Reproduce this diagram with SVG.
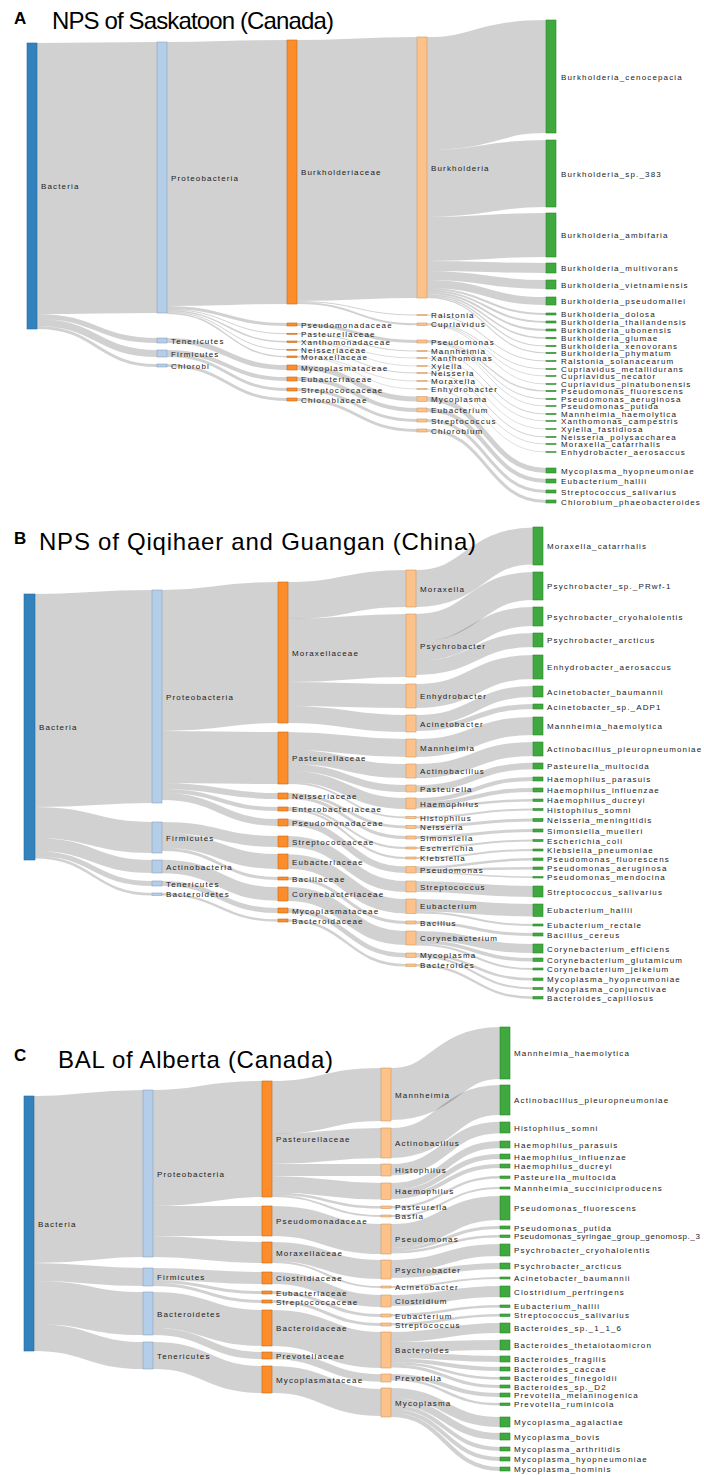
<svg xmlns="http://www.w3.org/2000/svg" width="704" height="1475" viewBox="0 0 704 1475">
<style>
.k{fill:#3182bd;stroke:#2a6a9c;stroke-width:.6}
.p{fill:#b4cde9;stroke:#8aa3c2;stroke-width:.6}
.f{fill:#fd8d2a;stroke:#c9691a;stroke-width:.6}
.g{fill:#fdc28a;stroke:#d39a62;stroke-width:.6}
.s{fill:#3fa83f;stroke:#2b8a2b;stroke-width:.6}
text{font-family:"Liberation Sans",Arial,sans-serif;font-size:8px;letter-spacing:1.15px;fill:#222}
.lk path{fill:none;stroke:#000;stroke-opacity:.18}
text.t{font-size:24px;letter-spacing:0;fill:#000}
text.pl{font-size:17px;font-weight:bold;letter-spacing:0;fill:#000}
</style>
<rect width="704" height="1475" fill="#fff"/>

<!-- ================= PANEL A ================= -->
<text class="pl" x="14" y="24">A</text>
<text class="t" x="52" y="29" textLength="282">NPS of Saskatoon (Canada)</text>
<g class="lk" id="a-links">
<path d="M37 178.5C97 178.5 97 177.5 157 177.5" stroke-width="271"/>
<path d="M37 316.5C97 316.5 97 340.5 157 340.5" stroke-width="5"/>
<path d="M37 322.5C97 322.5 97 353.5 157 353.5" stroke-width="7"/>
<path d="M37 327.5C97 327.5 97 365.5 157 365.5" stroke-width="3"/>
<path d="M167 174C227 174 227 172 287 172" stroke-width="264"/>
<path d="M167 307.5C227 307.5 227 324.5 287 324.5" stroke-width="3"/>
<path d="M167 309.5C227 309.5 227 333.75 287 333.75" stroke-width="1"/>
<path d="M167 310.75C227 310.75 227 341.75 287 341.75" stroke-width="1.5"/>
<path d="M167 312C227 312 227 349.75 287 349.75" stroke-width="1"/>
<path d="M167 313.25C227 313.25 227 356.75 287 356.75" stroke-width="1.5"/>
<path d="M167 340.5C227 340.5 227 367.5 287 367.5" stroke-width="5"/>
<path d="M167 352C227 352 227 379 287 379" stroke-width="4"/>
<path d="M167 355.5C227 355.5 227 389.5 287 389.5" stroke-width="3"/>
<path d="M167 365.5C227 365.5 227 399.5 287 399.5" stroke-width="3"/>
<path d="M297 170.5C357 170.5 357 167.5 417 167.5" stroke-width="261"/>
<path d="M297 301.5C357 301.5 357 315 417 315" stroke-width="1"/>
<path d="M297 303C357 303 357 324.25 417 324.25" stroke-width="2"/>
<path d="M297 324.5C357 324.5 357 341.5 417 341.5" stroke-width="3"/>
<path d="M297 333.75C357 333.75 357 351 417 351" stroke-width="1"/>
<path d="M297 341.4C357 341.4 357 358 417 358" stroke-width=".8"/>
<path d="M297 342.1C357 342.1 357 366 417 366" stroke-width=".7"/>
<path d="M297 349.75C357 349.75 357 373 417 373" stroke-width="1"/>
<path d="M297 356.4C357 356.4 357 381 417 381" stroke-width=".8"/>
<path d="M297 357.1C357 357.1 357 389 417 389" stroke-width=".7"/>
<path d="M297 367.5C357 367.5 357 399 417 399" stroke-width="5"/>
<path d="M297 379C357 379 357 410 417 410" stroke-width="4"/>
<path d="M297 389.5C357 389.5 357 420.5 417 420.5" stroke-width="3"/>
<path d="M297 399.5C357 399.5 357 430.5 417 430.5" stroke-width="3"/>
<path d="M427 93.5C486.5 93.5 486.5 76.5 546 76.5" stroke-width="113"/>
<path d="M427 183.5C486.5 183.5 486.5 173.5 546 173.5" stroke-width="67"/>
<path d="M427 239C486.5 239 486.5 235 546 235" stroke-width="44"/>
<path d="M427 266C486.5 266 486.5 268 546 268" stroke-width="10"/>
<path d="M427 275.5C486.5 275.5 486.5 284.5 546 284.5" stroke-width="9"/>
<path d="M427 284C486.5 284 486.5 301 546 301" stroke-width="8"/>
<path d="M427 289C486.5 289 486.5 314 546 314" stroke-width="2"/>
<path d="M427 291C486.5 291 486.5 322 546 322" stroke-width="2"/>
<path d="M427 293C486.5 293 486.5 330 546 330" stroke-width="2"/>
<path d="M427 294.75C486.5 294.75 486.5 338 546 338" stroke-width="1.5"/>
<path d="M427 296.1C486.5 296.1 486.5 346 546 346" stroke-width="1.2"/>
<path d="M427 297.3C486.5 297.3 486.5 353 546 353" stroke-width="1.2"/>
<path d="M427 315C486.5 315 486.5 361 546 361" stroke-width="1"/>
<path d="M427 323.45C486.5 323.45 486.5 369 546 369" stroke-width=".9"/>
<path d="M427 324.3C486.5 324.3 486.5 376 546 376" stroke-width=".8"/>
<path d="M427 325.1C486.5 325.1 486.5 384 546 384" stroke-width=".8"/>
<path d="M427 340.6C486.5 340.6 486.5 391 546 391" stroke-width="1.2"/>
<path d="M427 341.7C486.5 341.7 486.5 399 546 399" stroke-width="1"/>
<path d="M427 342.6C486.5 342.6 486.5 406 546 406" stroke-width=".8"/>
<path d="M427 351C486.5 351 486.5 414 546 414" stroke-width="1"/>
<path d="M427 358C486.5 358 486.5 421 546 421" stroke-width=".8"/>
<path d="M427 366C486.5 366 486.5 429 546 429" stroke-width=".7"/>
<path d="M427 373C486.5 373 486.5 437 546 437" stroke-width="1"/>
<path d="M427 381C486.5 381 486.5 444 546 444" stroke-width=".8"/>
<path d="M427 389C486.5 389 486.5 452 546 452" stroke-width=".7"/>
<path d="M427 399C486.5 399 486.5 470.5 546 470.5" stroke-width="5"/>
<path d="M427 410C486.5 410 486.5 481 546 481" stroke-width="4"/>
<path d="M427 420.5C486.5 420.5 486.5 491.5 546 491.5" stroke-width="3"/>
<path d="M427 430.5C486.5 430.5 486.5 501.5 546 501.5" stroke-width="3"/>
</g>
<g id="a-bacteria"><rect class="k" x="27" y="43" width="10" height="286"/><text x="41" y="189">Bacteria</text></g>
<g id="a-proteobacteria"><rect class="p" x="157" y="42" width="10" height="271"/><text x="171" y="180.5">Proteobacteria</text></g>
<g id="a-tenericutes"><rect class="p" x="157" y="338" width="10" height="5"/><text x="171" y="343.5">Tenericutes</text></g>
<g id="a-firmicutes"><rect class="p" x="157" y="350" width="10" height="7"/><text x="171" y="356.5">Firmicutes</text></g>
<g id="a-chlorobi"><rect class="p" x="157" y="364" width="10" height="3"/><text x="171" y="368.5">Chlorobi</text></g>
<g id="a-burkholderiaceae"><rect class="f" x="287" y="40" width="10" height="264"/><text x="301" y="175">Burkholderiaceae</text></g>
<g id="a-pseudomonadaceae"><rect class="f" x="287" y="323" width="10" height="3"/><text x="301" y="327.5">Pseudomonadaceae</text></g>
<g id="a-pasteurellaceae"><rect class="f" x="287" y="333.25" width="10" height="1"/><text x="301" y="336.75">Pasteurellaceae</text></g>
<g id="a-xanthomonadaceae"><rect class="f" x="287" y="341" width="10" height="1.5"/><text x="301" y="344.75">Xanthomonadaceae</text></g>
<g id="a-neisseriaceae"><rect class="f" x="287" y="349.25" width="10" height="1"/><text x="301" y="352.75">Neisseriaceae</text></g>
<g id="a-moraxellaceae"><rect class="f" x="287" y="356" width="10" height="1.5"/><text x="301" y="359.75">Moraxellaceae</text></g>
<g id="a-mycoplasmataceae"><rect class="f" x="287" y="365" width="10" height="5"/><text x="301" y="370.5">Mycoplasmataceae</text></g>
<g id="a-eubacteriaceae"><rect class="f" x="287" y="377" width="10" height="4"/><text x="301" y="382">Eubacteriaceae</text></g>
<g id="a-streptococcaceae"><rect class="f" x="287" y="388" width="10" height="3"/><text x="301" y="392.5">Streptococcaceae</text></g>
<g id="a-chlorobiaceae"><rect class="f" x="287" y="398" width="10" height="3"/><text x="301" y="402.5">Chlorobiaceae</text></g>
<g id="a-burkholderia"><rect class="g" x="417" y="37" width="10" height="261"/><text x="431" y="170.5">Burkholderia</text></g>
<g id="a-ralstonia"><rect class="g" x="417" y="314.5" width="10" height="1"/><text x="431" y="318">Ralstonia</text></g>
<g id="a-cupriavidus"><rect class="g" x="417" y="323" width="10" height="2.5"/><text x="431" y="327.25">Cupriavidus</text></g>
<g id="a-pseudomonas"><rect class="g" x="417" y="340" width="10" height="3"/><text x="431" y="344.5">Pseudomonas</text></g>
<g id="a-mannheimia"><rect class="g" x="417" y="350.5" width="10" height="1"/><text x="431" y="354">Mannheimia</text></g>
<g id="a-xanthomonas"><rect class="g" x="417" y="357.6" width="10" height=".8"/><text x="431" y="361">Xanthomonas</text></g>
<g id="a-xylella"><rect class="g" x="417" y="365.6" width="10" height=".8"/><text x="431" y="369">Xylella</text></g>
<g id="a-neisseria"><rect class="g" x="417" y="372.5" width="10" height="1"/><text x="431" y="376">Neisseria</text></g>
<g id="a-moraxella"><rect class="g" x="417" y="380.6" width="10" height=".8"/><text x="431" y="384">Moraxella</text></g>
<g id="a-enhydrobacter"><rect class="g" x="417" y="388.6" width="10" height=".8"/><text x="431" y="392">Enhydrobacter</text></g>
<g id="a-mycoplasma"><rect class="g" x="417" y="396.5" width="10" height="5"/><text x="431" y="402">Mycoplasma</text></g>
<g id="a-eubacterium"><rect class="g" x="417" y="408" width="10" height="4"/><text x="431" y="413">Eubacterium</text></g>
<g id="a-streptococcus"><rect class="g" x="417" y="419" width="10" height="3"/><text x="431" y="423.5">Streptococcus</text></g>
<g id="a-chlorobium"><rect class="g" x="417" y="429" width="10" height="3"/><text x="431" y="433.5">Chlorobium</text></g>
<g id="a-s-cenocepacia"><rect class="s" x="546" y="20" width="10" height="113"/><text x="561" y="79.5">Burkholderia_cenocepacia</text></g>
<g id="a-s-sp383"><rect class="s" x="546" y="140" width="10" height="67"/><text x="561" y="176.5">Burkholderia_sp._383</text></g>
<g id="a-s-ambifaria"><rect class="s" x="546" y="213" width="10" height="44"/><text x="561" y="238">Burkholderia_ambifaria</text></g>
<g id="a-s-multivorans"><rect class="s" x="546" y="263" width="10" height="10"/><text x="561" y="271">Burkholderia_multivorans</text></g>
<g id="a-s-vietnamiensis"><rect class="s" x="546" y="280" width="10" height="9"/><text x="561" y="287.5">Burkholderia_vietnamiensis</text></g>
<g id="a-s-pseudomallei"><rect class="s" x="546" y="297" width="10" height="8"/><text x="561" y="304">Burkholderia_pseudomallei</text></g>
<g id="a-s-dolosa"><rect class="s" x="546" y="313" width="10" height="2"/><text x="561" y="317">Burkholderia_dolosa</text></g>
<g id="a-s-thailandensis"><rect class="s" x="546" y="321" width="10" height="2"/><text x="561" y="325">Burkholderia_thailandensis</text></g>
<g id="a-s-ubonensis"><rect class="s" x="546" y="329" width="10" height="2"/><text x="561" y="333">Burkholderia_ubonensis</text></g>
<g id="a-s-glumae"><rect class="s" x="546" y="337.25" width="10" height="1.5"/><text x="561" y="341">Burkholderia_glumae</text></g>
<g id="a-s-xenovorans"><rect class="s" x="546" y="345.4" width="10" height="1.2"/><text x="561" y="349">Burkholderia_xenovorans</text></g>
<g id="a-s-phymatum"><rect class="s" x="546" y="352.4" width="10" height="1.2"/><text x="561" y="356">Burkholderia_phymatum</text></g>
<g id="a-s-ralstonia"><rect class="s" x="546" y="360.5" width="10" height="1"/><text x="561" y="364">Ralstonia_solanacearum</text></g>
<g id="a-s-metallidurans"><rect class="s" x="546" y="368.55" width="10" height=".9"/><text x="561" y="372">Cupriavidus_metallidurans</text></g>
<g id="a-s-necator"><rect class="s" x="546" y="375.6" width="10" height=".8"/><text x="561" y="379">Cupriavidus_necator</text></g>
<g id="a-s-pinatubonensis"><rect class="s" x="546" y="383.6" width="10" height=".8"/><text x="561" y="387">Cupriavidus_pinatubonensis</text></g>
<g id="a-s-pfluorescens"><rect class="s" x="546" y="390.4" width="10" height="1.2"/><text x="561" y="394">Pseudomonas_fluorescens</text></g>
<g id="a-s-paeruginosa"><rect class="s" x="546" y="398.5" width="10" height="1"/><text x="561" y="402">Pseudomonas_aeruginosa</text></g>
<g id="a-s-pputida"><rect class="s" x="546" y="405.6" width="10" height=".8"/><text x="561" y="409">Pseudomonas_putida</text></g>
<g id="a-s-mhaemolytica"><rect class="s" x="546" y="413.5" width="10" height="1"/><text x="561" y="417">Mannheimia_haemolytica</text></g>
<g id="a-s-xcampestris"><rect class="s" x="546" y="420.6" width="10" height=".8"/><text x="561" y="424">Xanthomonas_campestris</text></g>
<g id="a-s-xfastidiosa"><rect class="s" x="546" y="428.65" width="10" height=".7"/><text x="561" y="432">Xylella_fastidiosa</text></g>
<g id="a-s-npolysaccharea"><rect class="s" x="546" y="436.5" width="10" height="1"/><text x="561" y="440">Neisseria_polysaccharea</text></g>
<g id="a-s-mcatarrhalis"><rect class="s" x="546" y="443.6" width="10" height=".8"/><text x="561" y="447">Moraxella_catarrhalis</text></g>
<g id="a-s-eaerosaccus"><rect class="s" x="546" y="451.65" width="10" height=".7"/><text x="561" y="455">Enhydrobacter_aerosaccus</text></g>
<g id="a-s-mhyopneumoniae"><rect class="s" x="546" y="468" width="10" height="5"/><text x="561" y="473.5">Mycoplasma_hyopneumoniae</text></g>
<g id="a-s-ehallii"><rect class="s" x="546" y="479" width="10" height="4"/><text x="561" y="484">Eubacterium_hallii</text></g>
<g id="a-s-ssalivarius"><rect class="s" x="546" y="490" width="10" height="3"/><text x="561" y="494.5">Streptococcus_salivarius</text></g>
<g id="a-s-cphaeobacteroides"><rect class="s" x="546" y="500" width="10" height="3"/><text x="561" y="504.5">Chlorobium_phaeobacteroides</text></g>

<!-- ================= PANEL B ================= -->
<text class="pl" x="14" y="544">B</text>
<text class="t" x="39" y="550" textLength="437">NPS of Qiqihaer and Guangan (China)</text>
<g class="lk" id="b-links">
<path d="M35 700.5C93.5 700.5 93.5 696.5 152 696.5" stroke-width="213"/>
<path d="M35 822.5C93.5 822.5 93.5 837.5 152 837.5" stroke-width="31"/>
<path d="M35 844.5C93.5 844.5 93.5 866.5 152 866.5" stroke-width="13"/>
<path d="M35 853.5C93.5 853.5 93.5 883.5 152 883.5" stroke-width="5"/>
<path d="M35 857.25C93.5 857.25 93.5 894.25 152 894.25" stroke-width="2.5"/>
<path d="M162 660.5C220 660.5 220 652.5 278 652.5" stroke-width="141"/>
<path d="M162 757C220 757 220 758 278 758" stroke-width="52"/>
<path d="M162 786C220 786 220 796 278 796" stroke-width="6"/>
<path d="M162 791C220 791 220 809 278 809" stroke-width="4"/>
<path d="M162 796.5C220 796.5 220 822.5 278 822.5" stroke-width="7"/>
<path d="M162 827.5C220 827.5 220 841.5 278 841.5" stroke-width="11"/>
<path d="M162 840.5C220 840.5 220 861.5 278 861.5" stroke-width="15"/>
<path d="M162 849.5C220 849.5 220 878.5 278 878.5" stroke-width="3"/>
<path d="M162 866.5C220 866.5 220 894 278 894" stroke-width="13.5"/>
<path d="M162 883.5C220 883.5 220 910.5 278 910.5" stroke-width="5"/>
<path d="M162 894.25C220 894.25 220 920.5 278 920.5" stroke-width="2.5"/>
<path d="M288 600.5C347 600.5 347 588.5 406 588.5" stroke-width="37"/>
<path d="M288 650.5C347 650.5 347 645.5 406 645.5" stroke-width="63"/>
<path d="M288 694C347 694 347 696 406 696" stroke-width="24"/>
<path d="M288 714.5C347 714.5 347 723.5 406 723.5" stroke-width="17"/>
<path d="M288 741C347 741 347 748 406 748" stroke-width="18"/>
<path d="M288 757C347 757 347 771 406 771" stroke-width="14"/>
<path d="M288 767.5C347 767.5 347 788.5 406 788.5" stroke-width="7"/>
<path d="M288 776.5C347 776.5 347 803.5 406 803.5" stroke-width="11"/>
<path d="M288 783C347 783 347 817.5 406 817.5" stroke-width="2"/>
<path d="M288 794.5C347 794.5 347 827 406 827" stroke-width="3"/>
<path d="M288 797.5C347 797.5 347 837.5 406 837.5" stroke-width="3"/>
<path d="M288 808C347 808 347 848 406 848" stroke-width="2"/>
<path d="M288 810C347 810 347 858 406 858" stroke-width="2"/>
<path d="M288 822.5C347 822.5 347 869.75 406 869.75" stroke-width="6.5"/>
<path d="M288 841.5C347 841.5 347 886.5 406 886.5" stroke-width="11"/>
<path d="M288 861.5C347 861.5 347 906.25 406 906.25" stroke-width="14.5"/>
<path d="M288 878.5C347 878.5 347 922.5 406 922.5" stroke-width="3"/>
<path d="M288 894C347 894 347 938 406 938" stroke-width="14"/>
<path d="M288 910.5C347 910.5 347 955.25 406 955.25" stroke-width="4.5"/>
<path d="M288 920.5C347 920.5 347 965.25 406 965.25" stroke-width="2.5"/>
<path d="M416 588.5C474.5 588.5 474.5 546 533 546" stroke-width="37"/>
<path d="M416 628C474.5 628 474.5 586 533 586" stroke-width="28"/>
<path d="M416 651.5C474.5 651.5 474.5 616.5 533 616.5" stroke-width="19"/>
<path d="M416 668C474.5 668 474.5 640 533 640" stroke-width="14"/>
<path d="M416 696C474.5 696 474.5 667 533 667" stroke-width="24"/>
<path d="M416 720.5C474.5 720.5 474.5 691.5 533 691.5" stroke-width="11"/>
<path d="M416 728.5C474.5 728.5 474.5 706.5 533 706.5" stroke-width="5"/>
<path d="M416 748C474.5 748 474.5 726 533 726" stroke-width="18"/>
<path d="M416 771C474.5 771 474.5 749 533 749" stroke-width="14"/>
<path d="M416 788.5C474.5 788.5 474.5 766 533 766" stroke-width="6.5"/>
<path d="M416 800C474.5 800 474.5 779 533 779" stroke-width="4"/>
<path d="M416 804C474.5 804 474.5 790 533 790" stroke-width="4"/>
<path d="M416 807.25C474.5 807.25 474.5 800.25 533 800.25" stroke-width="2.5"/>
<path d="M416 817.5C474.5 817.5 474.5 809.5 533 809.5" stroke-width="2"/>
<path d="M416 827C474.5 827 474.5 820 533 820" stroke-width="3"/>
<path d="M416 837.5C474.5 837.5 474.5 830.5 533 830.5" stroke-width="3"/>
<path d="M416 848C474.5 848 474.5 840.5 533 840.5" stroke-width="2"/>
<path d="M416 858C474.5 858 474.5 850 533 850" stroke-width="2"/>
<path d="M416 867.75C474.5 867.75 474.5 859.25 533 859.25" stroke-width="2.5"/>
<path d="M416 870.25C474.5 870.25 474.5 868.25 533 868.25" stroke-width="2.5"/>
<path d="M416 872.25C474.5 872.25 474.5 877.25 533 877.25" stroke-width="1.5"/>
<path d="M416 886.5C474.5 886.5 474.5 891.5 533 891.5" stroke-width="11"/>
<path d="M416 905.25C474.5 905.25 474.5 910.25 533 910.25" stroke-width="12.5"/>
<path d="M416 912.5C474.5 912.5 474.5 925 533 925" stroke-width="2"/>
<path d="M416 922.5C474.5 922.5 474.5 934.5 533 934.5" stroke-width="3"/>
<path d="M416 935.5C474.5 935.5 474.5 948.5 533 948.5" stroke-width="9"/>
<path d="M416 941.75C474.5 941.75 474.5 959.75 533 959.75" stroke-width="3.5"/>
<path d="M416 944.5C474.5 944.5 474.5 969 533 969" stroke-width="2"/>
<path d="M416 954.25C474.5 954.25 474.5 979.25 533 979.25" stroke-width="2.5"/>
<path d="M416 956.5C474.5 956.5 474.5 988.5 533 988.5" stroke-width="2"/>
<path d="M416 965.25C474.5 965.25 474.5 997.75 533 997.75" stroke-width="2.5"/>
</g>
<g id="b-bacteria"><rect class="k" x="24" y="594" width="11" height="266"/><text x="39" y="730">Bacteria</text></g>
<g id="b-proteobacteria"><rect class="p" x="152" y="590" width="10" height="213"/><text x="166" y="699.5">Proteobacteria</text></g>
<g id="b-firmicutes"><rect class="p" x="152" y="822" width="10" height="31"/><text x="166" y="840.5">Firmicutes</text></g>
<g id="b-actinobacteria"><rect class="p" x="152" y="860" width="10" height="13"/><text x="166" y="869.5">Actinobacteria</text></g>
<g id="b-tenericutes"><rect class="p" x="152" y="881" width="10" height="5"/><text x="166" y="886.5">Tenericutes</text></g>
<g id="b-bacteroidetes"><rect class="p" x="152" y="893" width="10" height="2.5"/><text x="166" y="897.25">Bacteroidetes</text></g>
<g id="b-moraxellaceae"><rect class="f" x="278" y="582" width="10" height="141"/><text x="292" y="655.5">Moraxellaceae</text></g>
<g id="b-pasteurellaceae"><rect class="f" x="278" y="732" width="10" height="52"/><text x="292" y="761">Pasteurellaceae</text></g>
<g id="b-neisseriaceae"><rect class="f" x="278" y="793" width="10" height="6"/><text x="292" y="799">Neisseriaceae</text></g>
<g id="b-enterobacteriaceae"><rect class="f" x="278" y="807" width="10" height="4"/><text x="292" y="812">Enterobacteriaceae</text></g>
<g id="b-pseudomonadaceae"><rect class="f" x="278" y="819" width="10" height="7"/><text x="292" y="825.5">Pseudomonadaceae</text></g>
<g id="b-streptococcaceae"><rect class="f" x="278" y="836" width="10" height="11"/><text x="292" y="844.5">Streptococcaceae</text></g>
<g id="b-eubacteriaceae"><rect class="f" x="278" y="854" width="10" height="15"/><text x="292" y="864.5">Eubacteriaceae</text></g>
<g id="b-bacillaceae"><rect class="f" x="278" y="877" width="10" height="3"/><text x="292" y="881.5">Bacillaceae</text></g>
<g id="b-corynebacteriaceae"><rect class="f" x="278" y="887" width="10" height="14"/><text x="292" y="897">Corynebacteriaceae</text></g>
<g id="b-mycoplasmataceae"><rect class="f" x="278" y="908" width="10" height="5"/><text x="292" y="913.5">Mycoplasmataceae</text></g>
<g id="b-bacteroidaceae"><rect class="f" x="278" y="919" width="10" height="3"/><text x="292" y="923.5">Bacteroidaceae</text></g>
<g id="b-moraxella"><rect class="g" x="406" y="570" width="10" height="37"/><text x="420" y="591.5">Moraxella</text></g>
<g id="b-psychrobacter"><rect class="g" x="406" y="614" width="10" height="63"/><text x="420" y="648.5">Psychrobacter</text></g>
<g id="b-enhydrobacter"><rect class="g" x="406" y="684" width="10" height="24"/><text x="420" y="699">Enhydrobacter</text></g>
<g id="b-acinetobacter"><rect class="g" x="406" y="715" width="10" height="17"/><text x="420" y="726.5">Acinetobacter</text></g>
<g id="b-mannheimia"><rect class="g" x="406" y="739" width="10" height="18"/><text x="420" y="751">Mannheimia</text></g>
<g id="b-actinobacillus"><rect class="g" x="406" y="764" width="10" height="14"/><text x="420" y="774">Actinobacillus</text></g>
<g id="b-pasteurella"><rect class="g" x="406" y="785" width="10" height="7"/><text x="420" y="791.5">Pasteurella</text></g>
<g id="b-haemophilus"><rect class="g" x="406" y="798" width="10" height="11"/><text x="420" y="806.5">Haemophilus</text></g>
<g id="b-histophilus"><rect class="g" x="406" y="816.5" width="10" height="2"/><text x="420" y="820.5">Histophilus</text></g>
<g id="b-neisseria"><rect class="g" x="406" y="825.5" width="10" height="3"/><text x="420" y="830">Neisseria</text></g>
<g id="b-simonsiella"><rect class="g" x="406" y="836" width="10" height="3"/><text x="420" y="840.5">Simonsiella</text></g>
<g id="b-escherichia"><rect class="g" x="406" y="847" width="10" height="2"/><text x="420" y="851">Escherichia</text></g>
<g id="b-klebsiella"><rect class="g" x="406" y="857" width="10" height="2"/><text x="420" y="861">Klebsiella</text></g>
<g id="b-pseudomonas"><rect class="g" x="406" y="866.5" width="10" height="6.5"/><text x="420" y="872.75">Pseudomonas</text></g>
<g id="b-streptococcus"><rect class="g" x="406" y="881" width="10" height="11"/><text x="420" y="889.5">Streptococcus</text></g>
<g id="b-eubacterium"><rect class="g" x="406" y="899" width="10" height="14.5"/><text x="420" y="909.25">Eubacterium</text></g>
<g id="b-bacillus"><rect class="g" x="406" y="921" width="10" height="3"/><text x="420" y="925.5">Bacillus</text></g>
<g id="b-corynebacterium"><rect class="g" x="406" y="931" width="10" height="14"/><text x="420" y="941">Corynebacterium</text></g>
<g id="b-mycoplasma"><rect class="g" x="406" y="953" width="10" height="4.5"/><text x="420" y="958.25">Mycoplasma</text></g>
<g id="b-bacteroides"><rect class="g" x="406" y="964" width="10" height="2.5"/><text x="420" y="968.25">Bacteroides</text></g>
<g id="b-s-mcatarrhalis"><rect class="s" x="533" y="527" width="10" height="38"/><text x="547" y="549">Moraxella_catarrhalis</text></g>
<g id="b-s-psprwf1"><rect class="s" x="533" y="572" width="10" height="28"/><text x="547" y="589">Psychrobacter_sp._PRwf-1</text></g>
<g id="b-s-pcryohalolentis"><rect class="s" x="533" y="607" width="10" height="19"/><text x="547" y="619.5">Psychrobacter_cryohalolentis</text></g>
<g id="b-s-parcticus"><rect class="s" x="533" y="633" width="10" height="14"/><text x="547" y="643">Psychrobacter_arcticus</text></g>
<g id="b-s-eaerosaccus"><rect class="s" x="533" y="655" width="10" height="24"/><text x="547" y="670">Enhydrobacter_aerosaccus</text></g>
<g id="b-s-abaumannii"><rect class="s" x="533" y="686" width="10" height="11"/><text x="547" y="694.5">Acinetobacter_baumannii</text></g>
<g id="b-s-aspadp1"><rect class="s" x="533" y="704" width="10" height="5"/><text x="547" y="709.5">Acinetobacter_sp._ADP1</text></g>
<g id="b-s-mhaemolytica"><rect class="s" x="533" y="717" width="10" height="18"/><text x="547" y="729">Mannheimia_haemolytica</text></g>
<g id="b-s-apleuropneumoniae"><rect class="s" x="533" y="742" width="10" height="14"/><text x="547" y="752">Actinobacillus_pleuropneumoniae</text></g>
<g id="b-s-pmultocida"><rect class="s" x="533" y="763" width="10" height="6"/><text x="547" y="769">Pasteurella_multocida</text></g>
<g id="b-s-hparasuis"><rect class="s" x="533" y="777" width="10" height="4"/><text x="547" y="782">Haemophilus_parasuis</text></g>
<g id="b-s-hinfluenzae"><rect class="s" x="533" y="788" width="10" height="4"/><text x="547" y="793">Haemophilus_influenzae</text></g>
<g id="b-s-hducreyi"><rect class="s" x="533" y="799" width="10" height="2.5"/><text x="547" y="803.25">Haemophilus_ducreyi</text></g>
<g id="b-s-hsomni"><rect class="s" x="533" y="808.5" width="10" height="2"/><text x="547" y="812.5">Histophilus_somni</text></g>
<g id="b-s-nmeningitidis"><rect class="s" x="533" y="818.5" width="10" height="3"/><text x="547" y="823">Neisseria_meningitidis</text></g>
<g id="b-s-smuelleri"><rect class="s" x="533" y="829" width="10" height="3"/><text x="547" y="833.5">Simonsiella_muelleri</text></g>
<g id="b-s-ecoli"><rect class="s" x="533" y="839.5" width="10" height="2"/><text x="547" y="843.5">Escherichia_coli</text></g>
<g id="b-s-kpneumoniae"><rect class="s" x="533" y="849" width="10" height="2"/><text x="547" y="853">Klebsiella_pneumoniae</text></g>
<g id="b-s-pfluorescens"><rect class="s" x="533" y="858" width="10" height="2.5"/><text x="547" y="862.25">Pseudomonas_fluorescens</text></g>
<g id="b-s-paeruginosa"><rect class="s" x="533" y="867" width="10" height="2.5"/><text x="547" y="871.25">Pseudomonas_aeruginosa</text></g>
<g id="b-s-pmendocina"><rect class="s" x="533" y="876.5" width="10" height="1.5"/><text x="547" y="880.25">Pseudomonas_mendocina</text></g>
<g id="b-s-ssalivarius"><rect class="s" x="533" y="886" width="10" height="11"/><text x="547" y="894.5">Streptococcus_salivarius</text></g>
<g id="b-s-ehallii"><rect class="s" x="533" y="904" width="10" height="12.5"/><text x="547" y="913.25">Eubacterium_hallii</text></g>
<g id="b-s-erectale"><rect class="s" x="533" y="924" width="10" height="2"/><text x="547" y="928">Eubacterium_rectale</text></g>
<g id="b-s-bcereus"><rect class="s" x="533" y="933" width="10" height="3"/><text x="547" y="937.5">Bacillus_cereus</text></g>
<g id="b-s-cefficiens"><rect class="s" x="533" y="944" width="10" height="9"/><text x="547" y="951.5">Corynebacterium_efficiens</text></g>
<g id="b-s-cglutamicum"><rect class="s" x="533" y="958" width="10" height="3.5"/><text x="547" y="962.75">Corynebacterium_glutamicum</text></g>
<g id="b-s-cjeikeium"><rect class="s" x="533" y="968" width="10" height="2"/><text x="547" y="972">Corynebacterium_jeikeium</text></g>
<g id="b-s-mhyopneumoniae"><rect class="s" x="533" y="978" width="10" height="2.5"/><text x="547" y="982.25">Mycoplasma_hyopneumoniae</text></g>
<g id="b-s-mconjunctivae"><rect class="s" x="533" y="987.5" width="10" height="2"/><text x="547" y="991.5">Mycoplasma_conjunctivae</text></g>
<g id="b-s-bcapillosus"><rect class="s" x="533" y="996.5" width="10" height="2.5"/><text x="547" y="1000.75">Bacteroides_capillosus</text></g>

<!-- ================= PANEL C ================= -->
<text class="pl" x="14" y="1061">C</text>
<text class="t" x="58" y="1068" textLength="275">BAL of Alberta (Canada)</text>
<g class="lk" id="c-links">
<path d="M34 1179.5C88.5 1179.5 88.5 1173.5 143 1173.5" stroke-width="167"/>
<path d="M34 1272C88.5 1272 88.5 1277 143 1277" stroke-width="18"/>
<path d="M34 1302.5C88.5 1302.5 88.5 1313.5 143 1313.5" stroke-width="43"/>
<path d="M34 1337.5C88.5 1337.5 88.5 1355.5 143 1355.5" stroke-width="27"/>
<path d="M153 1148C207.5 1148 207.5 1139 262 1139" stroke-width="116"/>
<path d="M153 1221C207.5 1221 207.5 1221 262 1221" stroke-width="30"/>
<path d="M153 1246.5C207.5 1246.5 207.5 1252.5 262 1252.5" stroke-width="21"/>
<path d="M153 1274C207.5 1274 207.5 1278 262 1278" stroke-width="12"/>
<path d="M153 1281.5C207.5 1281.5 207.5 1292.5 262 1292.5" stroke-width="3"/>
<path d="M153 1284.5C207.5 1284.5 207.5 1301.5 262 1301.5" stroke-width="3"/>
<path d="M153 1310C207.5 1310 207.5 1328 262 1328" stroke-width="36"/>
<path d="M153 1331.5C207.5 1331.5 207.5 1355.5 262 1355.5" stroke-width="7"/>
<path d="M153 1355.5C207.5 1355.5 207.5 1379.5 262 1379.5" stroke-width="27"/>
<path d="M272 1107.5C326.5 1107.5 326.5 1094.5 381 1094.5" stroke-width="53"/>
<path d="M272 1149C326.5 1149 326.5 1143 381 1143" stroke-width="30"/>
<path d="M272 1170C326.5 1170 326.5 1170 381 1170" stroke-width="12"/>
<path d="M272 1184.25C326.5 1184.25 326.5 1191.25 381 1191.25" stroke-width="16.5"/>
<path d="M272 1193.75C326.5 1193.75 326.5 1207.25 381 1207.25" stroke-width="2.5"/>
<path d="M272 1196C326.5 1196 326.5 1216 381 1216" stroke-width="2"/>
<path d="M272 1221C326.5 1221 326.5 1239 381 1239" stroke-width="30"/>
<path d="M272 1251.5C326.5 1251.5 326.5 1269.5 381 1269.5" stroke-width="19"/>
<path d="M272 1262C326.5 1262 326.5 1287 381 1287" stroke-width="2"/>
<path d="M272 1278C326.5 1278 326.5 1301 381 1301" stroke-width="12"/>
<path d="M272 1292.5C326.5 1292.5 326.5 1315.5 381 1315.5" stroke-width="3"/>
<path d="M272 1301.5C326.5 1301.5 326.5 1324.5 381 1324.5" stroke-width="3"/>
<path d="M272 1328C326.5 1328 326.5 1350 381 1350" stroke-width="36"/>
<path d="M272 1355.5C326.5 1355.5 326.5 1378 381 1378" stroke-width="7.5"/>
<path d="M272 1379.5C326.5 1379.5 326.5 1402.5 381 1402.5" stroke-width="27"/>
<path d="M391 1094C445.5 1094 445.5 1053 500 1053" stroke-width="52"/>
<path d="M391 1143C445.5 1143 445.5 1100 500 1100" stroke-width="30"/>
<path d="M391 1169.75C445.5 1169.75 445.5 1127.5 500 1127.5" stroke-width="11.5"/>
<path d="M391 1186.5C445.5 1186.5 445.5 1144.5 500 1144.5" stroke-width="7"/>
<path d="M391 1192.5C445.5 1192.5 445.5 1156.5 500 1156.5" stroke-width="5"/>
<path d="M391 1197C445.5 1197 445.5 1166 500 1166" stroke-width="4"/>
<path d="M391 1207.25C445.5 1207.25 445.5 1177.25 500 1177.25" stroke-width="2.5"/>
<path d="M391 1216C445.5 1216 445.5 1188 500 1188" stroke-width="2"/>
<path d="M391 1236C445.5 1236 445.5 1208 500 1208" stroke-width="24"/>
<path d="M391 1249.5C445.5 1249.5 445.5 1227.5 500 1227.5" stroke-width="3"/>
<path d="M391 1252.25C445.5 1252.25 445.5 1236.25 500 1236.25" stroke-width="2.5"/>
<path d="M391 1266C445.5 1266 445.5 1250 500 1250" stroke-width="12"/>
<path d="M391 1275C445.5 1275 445.5 1266 500 1266" stroke-width="6"/>
<path d="M391 1287C445.5 1287 445.5 1278 500 1278" stroke-width="2"/>
<path d="M391 1300.5C445.5 1300.5 445.5 1291.5 500 1291.5" stroke-width="11"/>
<path d="M391 1315.25C445.5 1315.25 445.5 1306.25 500 1306.25" stroke-width="2.5"/>
<path d="M391 1324.25C445.5 1324.25 445.5 1315.25 500 1315.25" stroke-width="2.5"/>
<path d="M391 1337C445.5 1337 445.5 1328 500 1328" stroke-width="10"/>
<path d="M391 1347C445.5 1347 445.5 1345 500 1345" stroke-width="10"/>
<path d="M391 1355C445.5 1355 445.5 1359 500 1359" stroke-width="6"/>
<path d="M391 1360C445.5 1360 445.5 1369 500 1369" stroke-width="4"/>
<path d="M391 1363.25C445.5 1363.25 445.5 1378.25 500 1378.25" stroke-width="2.5"/>
<path d="M391 1366C445.5 1366 445.5 1386.5 500 1386.5" stroke-width="3"/>
<path d="M391 1376C445.5 1376 445.5 1395 500 1395" stroke-width="4"/>
<path d="M391 1379.25C445.5 1379.25 445.5 1404.25 500 1404.25" stroke-width="2.5"/>
<path d="M391 1393C445.5 1393 445.5 1422 500 1422" stroke-width="10"/>
<path d="M391 1401.5C445.5 1401.5 445.5 1436.5 500 1436.5" stroke-width="7"/>
<path d="M391 1407C445.5 1407 445.5 1449 500 1449" stroke-width="4"/>
<path d="M391 1411C445.5 1411 445.5 1459 500 1459" stroke-width="4"/>
<path d="M391 1415C445.5 1415 445.5 1469 500 1469" stroke-width="4"/>
</g>
<g id="c-bacteria"><rect class="k" x="24" y="1096" width="10" height="255"/><text x="38" y="1226.5">Bacteria</text></g>
<g id="c-proteobacteria"><rect class="p" x="143" y="1090" width="10" height="167"/><text x="157" y="1176.5">Proteobacteria</text></g>
<g id="c-firmicutes"><rect class="p" x="143" y="1268" width="10" height="18"/><text x="157" y="1280">Firmicutes</text></g>
<g id="c-bacteroidetes"><rect class="p" x="143" y="1292" width="10" height="43"/><text x="157" y="1316.5">Bacteroidetes</text></g>
<g id="c-tenericutes"><rect class="p" x="143" y="1342" width="10" height="27"/><text x="157" y="1358.5">Tenericutes</text></g>
<g id="c-pasteurellaceae"><rect class="f" x="262" y="1081" width="10" height="116"/><text x="276" y="1142">Pasteurellaceae</text></g>
<g id="c-pseudomonadaceae"><rect class="f" x="262" y="1206" width="10" height="30"/><text x="276" y="1224">Pseudomonadaceae</text></g>
<g id="c-moraxellaceae"><rect class="f" x="262" y="1242" width="10" height="21"/><text x="276" y="1255.5">Moraxellaceae</text></g>
<g id="c-clostridiaceae"><rect class="f" x="262" y="1272" width="10" height="12"/><text x="276" y="1281">Clostridiaceae</text></g>
<g id="c-eubacteriaceae"><rect class="f" x="262" y="1291" width="10" height="3"/><text x="276" y="1295.5">Eubacteriaceae</text></g>
<g id="c-streptococcaceae"><rect class="f" x="262" y="1300" width="10" height="3"/><text x="276" y="1304.5">Streptococcaceae</text></g>
<g id="c-bacteroidaceae"><rect class="f" x="262" y="1310" width="10" height="36"/><text x="276" y="1331">Bacteroidaceae</text></g>
<g id="c-prevotellaceae"><rect class="f" x="262" y="1352" width="10" height="7"/><text x="276" y="1358.5">Prevotellaceae</text></g>
<g id="c-mycoplasmataceae"><rect class="f" x="262" y="1366" width="10" height="27"/><text x="276" y="1382.5">Mycoplasmataceae</text></g>
<g id="c-mannheimia"><rect class="g" x="381" y="1068" width="10" height="53"/><text x="395" y="1097.5">Mannheimia</text></g>
<g id="c-actinobacillus"><rect class="g" x="381" y="1128" width="10" height="30"/><text x="395" y="1146">Actinobacillus</text></g>
<g id="c-histophilus"><rect class="g" x="381" y="1164" width="10" height="12"/><text x="395" y="1173">Histophilus</text></g>
<g id="c-haemophilus"><rect class="g" x="381" y="1183" width="10" height="16.5"/><text x="395" y="1194.25">Haemophilus</text></g>
<g id="c-pasteurella"><rect class="g" x="381" y="1206" width="10" height="2.5"/><text x="395" y="1210.25">Pasteurella</text></g>
<g id="c-basfia"><rect class="g" x="381" y="1215" width="10" height="2"/><text x="395" y="1219">Basfia</text></g>
<g id="c-pseudomonas"><rect class="g" x="381" y="1224" width="10" height="30"/><text x="395" y="1242">Pseudomonas</text></g>
<g id="c-psychrobacter"><rect class="g" x="381" y="1260" width="10" height="19"/><text x="395" y="1272.5">Psychrobacter</text></g>
<g id="c-acinetobacter"><rect class="g" x="381" y="1286" width="10" height="2"/><text x="395" y="1290">Acinetobacter</text></g>
<g id="c-clostridium"><rect class="g" x="381" y="1295" width="10" height="12"/><text x="395" y="1304">Clostridium</text></g>
<g id="c-eubacterium"><rect class="g" x="381" y="1314" width="10" height="3"/><text x="395" y="1318.5">Eubacterium</text></g>
<g id="c-streptococcus"><rect class="g" x="381" y="1323" width="10" height="3"/><text x="395" y="1327.5">Streptococcus</text></g>
<g id="c-bacteroides"><rect class="g" x="381" y="1332" width="10" height="36"/><text x="395" y="1353">Bacteroides</text></g>
<g id="c-prevotella"><rect class="g" x="381" y="1374" width="10" height="8"/><text x="395" y="1381">Prevotella</text></g>
<g id="c-mycoplasma"><rect class="g" x="381" y="1388" width="10" height="29"/><text x="395" y="1405.5">Mycoplasma</text></g>
<g id="c-s-mhaemolytica"><rect class="s" x="500" y="1027" width="10" height="52"/><text x="514" y="1056">Mannheimia_haemolytica</text></g>
<g id="c-s-apleuropneumoniae"><rect class="s" x="500" y="1085" width="10" height="30"/><text x="514" y="1103">Actinobacillus_pleuropneumoniae</text></g>
<g id="c-s-hsomni"><rect class="s" x="500" y="1122" width="10" height="11"/><text x="514" y="1130.5">Histophilus_somni</text></g>
<g id="c-s-hparasuis"><rect class="s" x="500" y="1141" width="10" height="7"/><text x="514" y="1147.5">Haemophilus_parasuis</text></g>
<g id="c-s-hinfluenzae"><rect class="s" x="500" y="1154" width="10" height="5"/><text x="514" y="1159.5">Haemophilus_influenzae</text></g>
<g id="c-s-hducreyi"><rect class="s" x="500" y="1164" width="10" height="4"/><text x="514" y="1169">Haemophilus_ducreyi</text></g>
<g id="c-s-pmultocida"><rect class="s" x="500" y="1176" width="10" height="2.5"/><text x="514" y="1180.25">Pasteurella_multocida</text></g>
<g id="c-s-msucciniciproducens"><rect class="s" x="500" y="1187" width="10" height="2"/><text x="514" y="1191">Mannheimia_succiniciproducens</text></g>
<g id="c-s-pfluorescens"><rect class="s" x="500" y="1196" width="10" height="24"/><text x="514" y="1211">Pseudomonas_fluorescens</text></g>
<g id="c-s-pputida"><rect class="s" x="500" y="1226" width="10" height="3"/><text x="514" y="1230.5">Pseudomonas_putida</text></g>
<g id="c-s-psyringae"><rect class="s" x="500" y="1235" width="10" height="2.5"/><text x="514" y="1239.25" textLength="187">Pseudomonas_syringae_group_genomosp._3</text></g>
<g id="c-s-pcryohalolentis"><rect class="s" x="500" y="1244" width="10" height="12"/><text x="514" y="1253">Psychrobacter_cryohalolentis</text></g>
<g id="c-s-parcticus"><rect class="s" x="500" y="1263" width="10" height="6"/><text x="514" y="1269">Psychrobacter_arcticus</text></g>
<g id="c-s-abaumannii"><rect class="s" x="500" y="1277" width="10" height="2"/><text x="514" y="1281">Acinetobacter_baumannii</text></g>
<g id="c-s-cperfringens"><rect class="s" x="500" y="1286" width="10" height="11"/><text x="514" y="1294.5">Clostridium_perfringens</text></g>
<g id="c-s-ehallii"><rect class="s" x="500" y="1305" width="10" height="2.5"/><text x="514" y="1309.25">Eubacterium_hallii</text></g>
<g id="c-s-ssalivarius"><rect class="s" x="500" y="1314" width="10" height="2.5"/><text x="514" y="1318.25">Streptococcus_salivarius</text></g>
<g id="c-s-bsp116"><rect class="s" x="500" y="1323" width="10" height="10"/><text x="514" y="1331">Bacteroides_sp._1_1_6</text></g>
<g id="c-s-btheta"><rect class="s" x="500" y="1340" width="10" height="10"/><text x="514" y="1348">Bacteroides_thetaiotaomicron</text></g>
<g id="c-s-bfragilis"><rect class="s" x="500" y="1356" width="10" height="6"/><text x="514" y="1362">Bacteroides_fragilis</text></g>
<g id="c-s-bcaccae"><rect class="s" x="500" y="1367" width="10" height="4"/><text x="514" y="1372">Bacteroides_caccae</text></g>
<g id="c-s-bfinegoldii"><rect class="s" x="500" y="1377" width="10" height="2.5"/><text x="514" y="1381.25">Bacteroides_finegoldii</text></g>
<g id="c-s-bspd2"><rect class="s" x="500" y="1385" width="10" height="3"/><text x="514" y="1389.5">Bacteroides_sp._D2</text></g>
<g id="c-s-pmelaninogenica"><rect class="s" x="500" y="1393" width="10" height="4"/><text x="514" y="1398">Prevotella_melaninogenica</text></g>
<g id="c-s-pruminicola"><rect class="s" x="500" y="1403" width="10" height="2.5"/><text x="514" y="1407.25">Prevotella_ruminicola</text></g>
<g id="c-s-magalactiae"><rect class="s" x="500" y="1417" width="10" height="10"/><text x="514" y="1425">Mycoplasma_agalactiae</text></g>
<g id="c-s-mbovis"><rect class="s" x="500" y="1433" width="10" height="7"/><text x="514" y="1439.5">Mycoplasma_bovis</text></g>
<g id="c-s-marthritidis"><rect class="s" x="500" y="1447" width="10" height="4"/><text x="514" y="1452">Mycoplasma_arthritidis</text></g>
<g id="c-s-mhyopneumoniae"><rect class="s" x="500" y="1457" width="10" height="4"/><text x="514" y="1462">Mycoplasma_hyopneumoniae</text></g>
<g id="c-s-mhominis"><rect class="s" x="500" y="1467" width="10" height="4"/><text x="514" y="1472">Mycoplasma_hominis</text></g>
</svg>
